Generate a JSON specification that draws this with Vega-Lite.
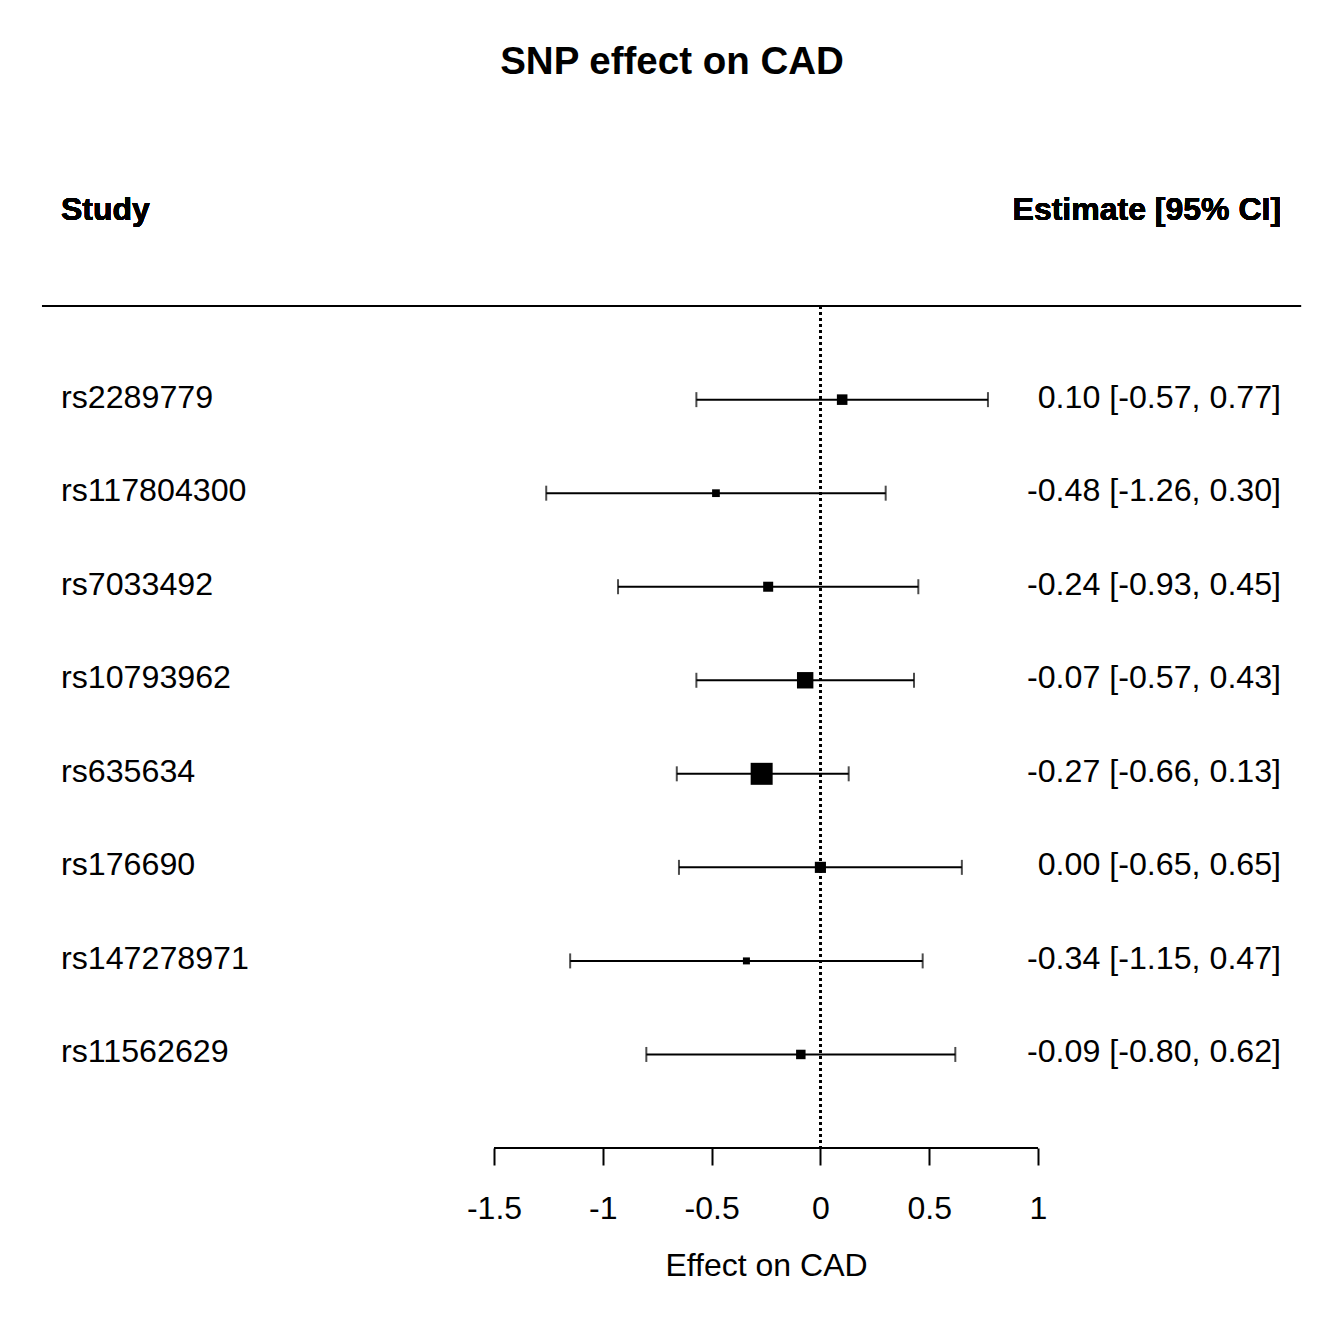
{
  "$schema": "https://vega.github.io/schema/vega-lite/v6.json",
  "autosize": "none",
  "width": 1344,
  "height": 1029,
  "padding": {"top": 119, "left": 0, "right": 0, "bottom": 196},
  "background": "white",
  "title": {
    "text": "SNP effect on CAD",
    "font": "Liberation Sans",
    "fontSize": 38.5,
    "fontWeight": "bold",
    "color": "black",
    "anchor": "middle",
    "frame": "group",
    "baseline": "alphabetic",
    "offset": 7
  },
  "config": {
    "view": {"stroke": null},
    "font": "Liberation Sans"
  },
  "data": {
    "values": [
      {"study": "rs2289779", "row": 1, "est": 0.10, "lb": -0.57, "ub": 0.77, "weight": 10.01, "ci": "0.10 [-0.57, 0.77]"},
      {"study": "rs117804300", "row": 2, "est": -0.48, "lb": -1.26, "ub": 0.30, "weight": 7.39, "ci": "-0.48 [-1.26, 0.30]"},
      {"study": "rs7033492", "row": 3, "est": -0.24, "lb": -0.93, "ub": 0.45, "weight": 9.44, "ci": "-0.24 [-0.93, 0.45]"},
      {"study": "rs10793962", "row": 4, "est": -0.07, "lb": -0.57, "ub": 0.43, "weight": 17.97, "ci": "-0.07 [-0.57, 0.43]"},
      {"study": "rs635634", "row": 5, "est": -0.27, "lb": -0.66, "ub": 0.13, "weight": 28.80, "ci": "-0.27 [-0.66, 0.13]"},
      {"study": "rs176690", "row": 6, "est": 0.00, "lb": -0.65, "ub": 0.65, "weight": 10.63, "ci": "0.00 [-0.65, 0.65]"},
      {"study": "rs147278971", "row": 7, "est": -0.34, "lb": -1.15, "ub": 0.47, "weight": 6.85, "ci": "-0.34 [-1.15, 0.47]"},
      {"study": "rs11562629", "row": 8, "est": -0.09, "lb": -0.80, "ub": 0.62, "weight": 8.91, "ci": "-0.09 [-0.80, 0.62]"}
    ]
  },
  "layer": [
    {
      "mark": {"type": "rule", "color": "black", "strokeWidth": 2},
      "encoding": {
        "x": {
          "field": "lb", "type": "quantitative",
          "scale": {"domain": [-3.7702, 2.4062], "nice": false, "zero": false},
          "axis": {
            "values": [-1.5, -1, -0.5, 0, 0.5, 1],
            "labelExpr": "'' + datum.value",
            "domain": false,
            "grid": false,
            "ticks": true,
            "tickSize": 17,
            "tickWidth": 2,
            "tickColor": "black",
            "labelFont": "Liberation Sans",
            "labelFontSize": 32,
            "labelColor": "black",
            "labelPadding": 28,
            "labelFlush": false,
            "labelOverlap": false,
            "title": "Effect on CAD",
            "titleFont": "Liberation Sans",
            "titleFontSize": 32,
            "titleFontWeight": "normal",
            "titleColor": "black",
            "titleX": 766,
            "titleAnchor": "middle",
            "titlePadding": 26
          }
        },
        "x2": {"field": "ub"},
        "y": {
          "field": "row", "type": "quantitative",
          "scale": {"domain": [-2, 9], "nice": false, "zero": false, "reverse": true},
          "axis": null
        }
      }
    },
    {
      "mark": {"type": "tick", "orient": "vertical", "color": "black", "size": 15, "thickness": 2},
      "encoding": {
        "x": {"field": "lb", "type": "quantitative"},
        "y": {"field": "row", "type": "quantitative", "axis": null}
      }
    },
    {
      "mark": {"type": "tick", "orient": "vertical", "color": "black", "size": 15, "thickness": 2},
      "encoding": {
        "x": {"field": "ub", "type": "quantitative"},
        "y": {"field": "row", "type": "quantitative", "axis": null}
      }
    },
    {
      "mark": {"type": "square", "color": "black", "filled": true, "opacity": 1},
      "encoding": {
        "x": {"field": "est", "type": "quantitative"},
        "y": {"field": "row", "type": "quantitative", "axis": null},
        "size": {
          "field": "weight", "type": "quantitative",
          "scale": {"type": "linear", "domain": [6.85, 28.8], "range": [49, 484], "zero": false},
          "legend": null
        }
      }
    },
    {
      "mark": {"type": "text", "align": "left", "baseline": "middle", "fontSize": 32.2, "color": "black", "dy": -2},
      "encoding": {
        "x": {"datum": -3.49, "type": "quantitative"},
        "y": {"field": "row", "type": "quantitative", "axis": null},
        "text": {"field": "study"}
      }
    },
    {
      "mark": {"type": "text", "align": "right", "baseline": "middle", "fontSize": 32.2, "color": "black", "dy": -2},
      "encoding": {
        "x": {"datum": 2.117, "type": "quantitative"},
        "y": {"field": "row", "type": "quantitative", "axis": null},
        "text": {"field": "ci"}
      }
    },
    {
      "mark": {"type": "text", "align": "left", "baseline": "middle", "fontSize": 32, "fontWeight": "bold", "color": "black", "dy": -3},
      "encoding": {
        "x": {"datum": -3.49, "type": "quantitative"},
        "y": {"datum": -1, "type": "quantitative", "axis": null},
        "text": {"value": "Study"}
      }
    },
    {
      "mark": {"type": "text", "align": "right", "baseline": "middle", "fontSize": 32, "fontWeight": "bold", "color": "black", "dy": -3},
      "encoding": {
        "x": {"datum": 2.117, "type": "quantitative"},
        "y": {"datum": -1, "type": "quantitative", "axis": null},
        "text": {"value": "Estimate [95% CI]"}
      }
    },
    {
      "mark": {"type": "rule", "color": "black", "strokeWidth": 2},
      "encoding": {
        "x": {"datum": -3.5772, "type": "quantitative"},
        "x2": {"datum": 2.2087},
        "y": {"datum": 0, "type": "quantitative", "axis": null}
      }
    },
    {
      "mark": {"type": "rule", "color": "black", "strokeWidth": 2, "strokeDash": [3, 3]},
      "encoding": {
        "x": {"datum": 0, "type": "quantitative"},
        "y": {"datum": 0, "type": "quantitative", "axis": null},
        "y2": {"datum": 9}
      }
    },
    {
      "mark": {"type": "rule", "color": "black", "strokeWidth": 2},
      "encoding": {
        "x": {"datum": -1.5, "type": "quantitative"},
        "x2": {"datum": 1},
        "y": {"datum": 9, "type": "quantitative", "axis": null}
      }
    }
  ]
}
